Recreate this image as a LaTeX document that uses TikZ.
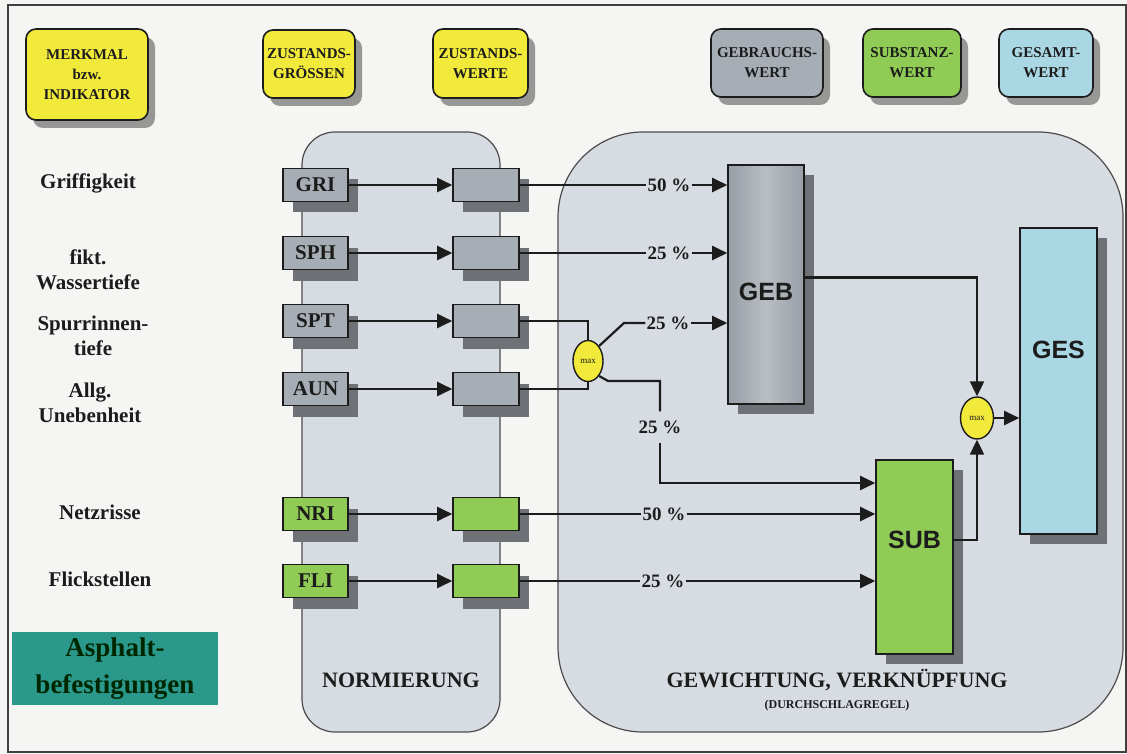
\documentclass[tikz,border=0pt]{standalone}
\usepackage{fontspec}
\setmainfont{Liberation Serif}
\newfontfamily\sansfont{Liberation Sans}
\usetikzlibrary{arrows.meta,shadows,shapes.geometric}
\definecolor{bg}{HTML}{F5F5F3}
\definecolor{panel}{HTML}{D7DBE2}
\definecolor{ylw}{HTML}{F2EA3A}
\definecolor{gry}{HTML}{A7ADB5}
\definecolor{gryd}{HTML}{989EA6}
\definecolor{gryl}{HTML}{B9BEC4}
\definecolor{grn}{HTML}{8FCB55}
\definecolor{lblue}{HTML}{AAD7E4}
\definecolor{shd}{HTML}{6E7176}
\definecolor{tealbox}{HTML}{2A988B}
\definecolor{ink}{HTML}{1C1C1C}
\tikzset{
  every node/.style={text=ink},
  topbox/.style={draw=ink, line width=1.6pt, rounded corners=10pt, align=center, inner sep=0pt,
    font=\bfseries\fontsize{15}{20}\selectfont,
    drop shadow={shadow xshift=7pt, shadow yshift=-8pt, fill=black!65, opacity=.6}},
  lbl/.style={align=center, font=\bfseries\fontsize{21}{25}\selectfont},
  abox/.style={draw=ink, line width=1.6pt, minimum width=65pt, minimum height=33pt, inner sep=0pt,
    font=\bfseries\fontsize{21}{21}\selectfont,
    drop shadow={shadow xshift=10pt, shadow yshift=-11pt, fill=shd, opacity=1}},
  bigbox/.style={draw=ink, line width=1.6pt, inner sep=0pt,
    drop shadow={shadow xshift=10pt, shadow yshift=-10pt, fill=shd, opacity=1}},
  bigtext/.style={font=\sansfont\bfseries\fontsize{25}{25}\selectfont},
  pct/.style={inner sep=1pt, font=\bfseries\fontsize{19}{19}\selectfont},
  conn/.style={line width=2.2pt, draw=ink},
  arr/.style={conn, -{Triangle[length=15pt,width=14pt]}},
  maxnode/.style={ellipse, draw=ink, line width=1.4pt, fill=ylw, inner sep=0pt,
    font=\fontsize{9}{9}\selectfont},
  panelbox/.style={draw=black!70, line width=1.2pt, fill=panel},
  paneltext/.style={font=\bfseries\fontsize{22}{22}\selectfont},
}
\begin{document}
\begin{tikzpicture}[x=1pt,y=-1pt]
\useasboundingbox (0,0) rectangle (1127,754);
\clip (0,0) rectangle (1127,754);
\fill[bg] (0,0) rectangle (1127,754);
\draw[line width=2pt, draw=black!75] (8,5) rectangle (1126,752);

% panels
\draw[panelbox, rounded corners=33pt] (302,132) rectangle (500,732);
\draw[panelbox, rounded corners=85pt] (558,132) rectangle (1123,732);
\node[paneltext] (norm) at (401,680) {NORMIERUNG};
\node[paneltext] (gew) at (837,680) {GEWICHTUNG, VERKNÜPFUNG};
\node[font=\bfseries\fontsize{12}{12}\selectfont] (durch) at (837,706) {(DURCHSCHLAGREGEL)};

% header boxes
\node[topbox, fill=ylw, minimum width=122pt, minimum height=91pt] (merk) at (87,74.5) {MERKMAL\\bzw.\\INDIKATOR};
\node[topbox, fill=ylw, minimum width=92pt, minimum height=68pt] (zg) at (309,64) {ZUSTANDS-\\GRÖSSEN};
\node[topbox, fill=ylw, minimum width=95pt, minimum height=69pt] (zw) at (480.5,63.5) {ZUSTANDS-\\WERTE};
\node[topbox, fill=gry, minimum width=112pt, minimum height=68pt] (gw) at (767,63) {GEBRAUCHS-\\WERT};
\node[topbox, fill=grn, minimum width=98pt, minimum height=68pt] (sw) at (912,63) {SUBSTANZ-\\WERT};
\node[topbox, fill=lblue, minimum width=94pt, minimum height=68pt] (gsw) at (1046,63) {GESAMT-\\WERT};

% left labels
\node[lbl] (l1) at (88,183) {Griffigkeit};
\node[lbl] (l2) at (88,270) {fikt.\\Wassertiefe};
\node[lbl] (l3) at (93,336) {Spurrinnen-\\tiefe};
\node[lbl] (l4) at (90,403) {Allg.\\Unebenheit};
\node[lbl] (l5) at (100,512) {Netzrisse};
\node[lbl] (l6) at (100,579) {Flickstellen};

\node[fill=tealbox, minimum width=206pt, minimum height=73pt, inner sep=0pt, align=center,
  text=black!85!green, font=\bfseries\fontsize{27}{37}\selectfont] (asph) at (115,668.5) {Asphalt-\\befestigungen};

% state variables
\node[abox, fill=gry] (gri) at (315.5,185) {GRI};
\node[abox, fill=gry] (sph) at (315.5,253) {SPH};
\node[abox, fill=gry] (spt) at (315.5,321) {SPT};
\node[abox, fill=gry] (aun) at (315.5,389) {AUN};
\node[abox, fill=grn] (nri) at (315.5,514) {NRI};
\node[abox, fill=grn] (fli) at (315.5,581) {FLI};

% state values
\node[abox, fill=gry, minimum width=66pt] (v1) at (486,185) {};
\node[abox, fill=gry, minimum width=66pt] (v2) at (486,253) {};
\node[abox, fill=gry, minimum width=66pt] (v3) at (486,321) {};
\node[abox, fill=gry, minimum width=66pt] (v4) at (486,389) {};
\node[abox, fill=grn, minimum width=66pt] (v5) at (486,514) {};
\node[abox, fill=grn, minimum width=66pt] (v6) at (486,581) {};

\foreach \a/\b in {gri/v1,sph/v2,spt/v3,aun/v4,nri/v5,fli/v6}
  \draw[arr] (\a) -- (\b);

% big boxes
\node[bigbox, left color=gryd, right color=gryd, middle color=gryl, minimum width=76pt, minimum height=239pt] (geb) at (766,284.5) {};
\node[bigtext] (gebt) at (766,292) {GEB};
\node[bigbox, fill=grn, minimum width=77pt, minimum height=194pt] (sub) at (914.5,557) {};
\node[bigtext] (subt) at (914.5,540) {SUB};
\node[bigbox, fill=lblue, minimum width=77pt, minimum height=306pt] (ges) at (1058.5,381) {};
\node[bigtext] (gest) at (1058.5,350) {GES};

% max nodes
\node[maxnode, minimum width=30pt, minimum height=41pt] (max1) at (588,361) {max};
\node[maxnode, minimum width=33pt, minimum height=42pt] (max2) at (977,418) {max};

% percentages
\node[pct] (p1) at (669,185) {50 \%};
\node[pct] (p2) at (669,253) {25 \%};
\node[pct] (p3) at (668,323) {25 \%};
\node[pct, inner ysep=9pt] (p4) at (660,427) {25 \%};
\node[pct] (p5) at (664,514) {50 \%};
\node[pct] (p6) at (663,581) {25 \%};

\draw[conn] (v1) -- (p1);  \draw[arr] (p1) -- (p1 -| geb.west);
\draw[conn] (v2) -- (p2);  \draw[arr] (p2) -- (p2 -| geb.west);
\draw[conn] (v5) -- (p5);  \draw[arr] (p5) -- (p5 -| sub.west);
\draw[conn] (v6) -- (p6);  \draw[arr] (p6) -- (p6 -| sub.west);

\draw[conn] (v3.east) -| (max1.north);
\draw[conn] (v4.east) -| (max1.south);
\coordinate (k1) at (624,323);
\draw[conn] (max1.north east) -- (k1) -- (p3.west);
\draw[arr] (p3) -- (p3 -| geb.west);
\coordinate (k2) at (608,381);
\coordinate (k3) at (660,381);
\coordinate (k4) at (660,483);
\draw[conn] (max1.south east) -- (k2) -- (k3) -- (p4.north);
\draw[arr] (p4.south) -- (k4) -- (k4 -| sub.west);

\draw[arr] ([yshift=7pt]geb.east) -| (max2.north);
\draw[arr] ([yshift=17pt]sub.east) -| (max2.south);
\draw[arr] (max2.east) -- (max2.east -| ges.west);
\end{tikzpicture}
\end{document}
